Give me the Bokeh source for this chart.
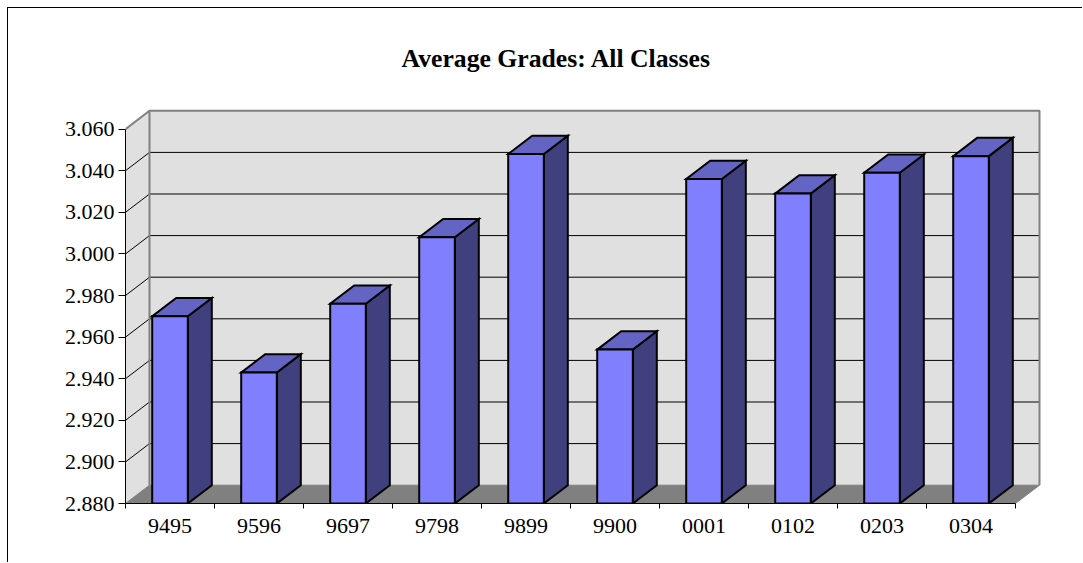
from bokeh.plotting import figure
from bokeh.models import Range1d, FixedTicker, NumeralTickFormatter
from bokeh.embed import file_html
from bokeh.resources import INLINE

# ---- data ----
years = ["9495", "9596", "9697", "9798", "9899", "9900", "0001", "0102", "0203", "0304"]
grades = [2.970, 2.943, 2.976, 3.008, 3.048, 2.954, 3.036, 3.029, 3.039, 3.047]
y_ticks = [2.880, 2.900, 2.920, 2.940, 2.960, 2.980, 3.000, 3.020, 3.040, 3.060]
title_text = "Average Grades: All Classes"

# ---- layout ----
W, H = 1075, 555
B_LEFT, B_RIGHT, B_TOP, B_BOTTOM = 117, 0, 92, 60
FW = W - B_LEFT - B_RIGHT
FH = H - B_TOP - B_BOTTOM
CAT_PX = 89.0       # pixels per category
VAL_PX = 2080.0     # pixels per value unit
DEPTH_X_PX, DEPTH_Y_PX = 24.0, 18.3
BAR_HALF = 0.2

n = len(years)
x0 = -0.5
x_end = x0 + n
y0, y1 = y_ticks[0], y_ticks[-1]
ddx = DEPTH_X_PX / CAT_PX
ddy = DEPTH_Y_PX / VAL_PX

p = figure(width=W, height=H, output_backend="svg", toolbar_location=None,
           x_range=Range1d(x0, x0 + FW / CAT_PX),
           y_range=Range1d(y0, y0 + FH / VAL_PX),
           min_border_left=B_LEFT, min_border_right=B_RIGHT,
           min_border_top=B_TOP, min_border_bottom=B_BOTTOM,
           background_fill_color="white", border_fill_color="white")
p.margin = (7, 0, 0, 7)
p.outline_line_color = None
p.xgrid.visible = False
p.ygrid.visible = False
p.styles = {"border-left": "1px solid black", "border-top": "1px solid black"}

# title
p.title.text = title_text
p.title.align = "left"
p.title.offset = 276
p.title.text_font = "Liberation Serif"
p.title.text_font_style = "bold"
p.title.text_font_size = "25.7px"
p.title.text_color = "black"
p.title.standoff = 56

WALL = "#e0e0e0"
EDGE = "#808080"

# back wall
p.quad(left=[x0 + ddx], right=[x_end + ddx], bottom=[y0 + ddy], top=[y1 + ddy],
       fill_color=WALL, line_color=None)
# left wall
p.patch([x0, x0 + ddx, x0 + ddx, x0], [y0, y0 + ddy, y1 + ddy, y1],
        fill_color=WALL, line_color=None)
# floor
p.patch([x0, x_end, x_end + ddx, x0 + ddx], [y0, y0, y0 + ddy, y0 + ddy],
        fill_color=EDGE, line_color=EDGE, line_width=1)

# gridlines
inner = y_ticks[1:-1]
p.multi_line([[x0 + ddx, x_end + ddx] for _ in inner], [[t + ddy, t + ddy] for t in inner],
             line_color="black", line_width=1)
p.multi_line([[x0, x0 + ddx] for _ in inner], [[t, t + ddy] for t in inner],
             line_color="black", line_width=1)

# wall edges
p.multi_line([[x0 + ddx, x0 + ddx], [x0, x0 + ddx, x_end + ddx, x_end + ddx]],
             [[y0 + ddy, y1 + ddy], [y1, y1 + ddy, y1 + ddy, y0 + ddy]],
             line_color=EDGE, line_width=2)

# bars
xs_front = list(range(n))
front_l = [i - BAR_HALF for i in xs_front]
front_r = [i + BAR_HALF for i in xs_front]
side_xs = [[r, r + ddx, r + ddx, r] for r in front_r]
side_ys = [[y0, y0 + ddy, v + ddy, v] for v in grades]
top_xs = [[l, r, r + ddx, l + ddx] for l, r in zip(front_l, front_r)]
top_ys = [[v, v, v + ddy, v + ddy] for v in grades]

p.patches(side_xs, side_ys, fill_color="#40407f", line_color="black", line_width=2,
          line_join="miter")
p.patches(top_xs, top_ys, fill_color="#6464c4", line_color="black", line_width=2,
          line_join="miter")
p.quad(left=front_l, right=front_r, bottom=[y0] * n, top=grades,
       fill_color="#8080ff", line_color="black", line_width=2, line_join="miter")

# x axis
xa = p.xaxis[0]
xa.ticker = FixedTicker(ticks=xs_front, minor_ticks=[x0 + k for k in range(n + 1)])
xa.major_label_overrides = {i: years[i] for i in range(n)}
xa.bounds = (x0, x_end)
xa.axis_line_color = "black"
xa.axis_line_width = 1
xa.major_tick_out = 0
xa.major_tick_in = 0
xa.minor_tick_out = 5
xa.minor_tick_in = 0
xa.minor_tick_line_color = "black"
xa.major_label_standoff = 10
xa.major_label_text_font = "Liberation Serif"
xa.major_label_text_font_size = "22px"
xa.major_label_text_color = "black"

# y axis
ya = p.yaxis[0]
ya.ticker = FixedTicker(ticks=y_ticks, minor_ticks=[])
ya.formatter = NumeralTickFormatter(format="0.000")
ya.bounds = (y0, y1)
ya.axis_line_color = "black"
ya.axis_line_width = 1
ya.major_tick_out = 7
ya.major_tick_in = 0
ya.major_tick_line_color = "black"
ya.minor_tick_out = 0
ya.minor_tick_in = 0
ya.major_label_standoff = 4
ya.major_label_text_font = "Liberation Serif"
ya.major_label_text_font_size = "22px"
ya.major_label_text_color = "black"

open("out.html", "w").write(file_html(p, INLINE))
